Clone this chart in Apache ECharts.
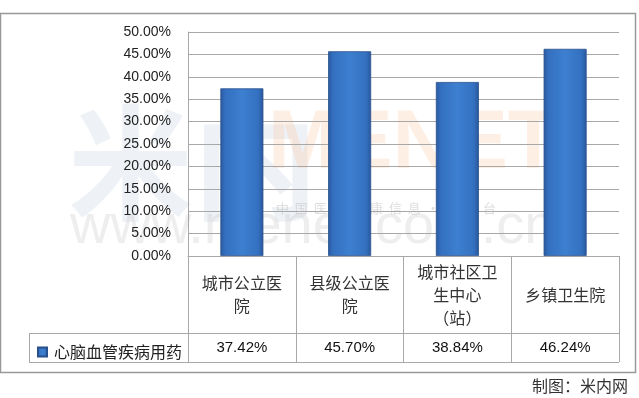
<!DOCTYPE html>
<html><head><meta charset="utf-8">
<script src="https://cdn.jsdelivr.net/npm/echarts@6/dist/echarts.min.js"></script>
<style>html,body{margin:0;padding:0;background:#fff}#c{width:639px;height:398px}</style>
</head><body><div id="c"></div>
<script>
var categories = ['城市公立医\n院', '县级公立医\n院', '城市社区卫\n生中心\n（站）', '乡镇卫生院'];
var seriesName = '心脑血管疾病用药';
var values = [0.3742, 0.4570, 0.3884, 0.4624];
var yTicks = {min: 0, max: 0.5, interval: 0.05};

var G = {left: 188, top: 32, right: 619, bottom: 256};
var rowSplit = 333, tableBottom = 362, legendLeft = 29;
var lineColor = '#a8a8a8';
var chart = echarts.init(document.getElementById('c'));
var barGrad = new echarts.graphic.LinearGradient(0, 0, 1, 0, [
  {offset: 0, color: '#2a5a9f'}, {offset: 0.12, color: '#3470c0'},
  {offset: 0.5, color: '#3d7fd0'}, {offset: 0.88, color: '#3470c0'}, {offset: 1, color: '#29579a'}
]);
chart.setOption({
  animation: false,
  textStyle: {fontFamily: 'Liberation Sans, Noto Sans CJK SC, sans-serif'},
  grid: {left: G.left, top: G.top, right: 639 - G.right, bottom: 398 - G.bottom, containLabel: false},
  legend: {
    left: 32, top: 339, itemWidth: 9, itemHeight: 9, itemGap: 0,
    icon: 'rect', data: [seriesName],
    textStyle: {fontSize: 16, color: '#222', fontFamily: 'Noto Sans CJK SC', padding: [0, 0, 0, 2]}
  },
  xAxis: [{
    type: 'category', data: categories, position: 'bottom',
    axisLine: {show: true, lineStyle: {color: lineColor}},
    axisTick: {show: true, length: tableBottom - G.bottom, lineStyle: {color: lineColor}},
    axisLabel: {
      margin: 38.5, verticalAlign: 'middle', fontSize: 16, lineHeight: 23,
      color: '#333', fontFamily: 'Noto Sans CJK SC', align: 'center', interval: 0
    }
  }, {
    type: 'category', data: values.map(function (v) { return (v * 100).toFixed(2) + '%'; }),
    position: 'bottom', offset: rowSplit - G.bottom,
    axisLine: {show: false}, axisTick: {show: false},
    axisLabel: {margin: 14.5, verticalAlign: 'middle', fontSize: 15, color: '#111', interval: 0}
  }],
  yAxis: {
    type: 'value', min: yTicks.min, max: yTicks.max, interval: yTicks.interval,
    axisLine: {show: true, lineStyle: {color: lineColor}},
    axisTick: {show: false},
    splitLine: {lineStyle: {color: lineColor}},
    axisLabel: {margin: 17, fontSize: 14, color: '#222',
      formatter: function (v) { return (v * 100).toFixed(2) + '%'; }}
  },
  series: [{
    name: seriesName, type: 'bar', data: values, barWidth: 43, xAxisIndex: 0,
    itemStyle: {color: barGrad, borderColor: '#274f8c', borderWidth: 0.8},
    z: 3
  }],
  graphic: [
    {type: 'rect', shape: {x: 0.5, y: 13.5, width: 635, height: 359}, style: {fill: 'none', stroke: '#999', lineWidth: 1.5}, z: 0},
    {type: 'text', left: 68, top: 100, style: {text: '米内', fontSize: 125, fontWeight: 'bold', fill: 'rgba(205,215,225,0.35)', fontFamily: 'Noto Sans CJK SC'}, z: 0},
    {type: 'text', left: 268, top: 104, style: {text: 'MENET', fontSize: 83, fontWeight: 'bold', fill: 'rgba(250,190,150,0.25)', fontFamily: 'Liberation Sans'}, z: 0},
    {type: 'text', left: 276, top: 202, style: {text: '中  国  医  药  健  康  信  息  ·  一  平  台', fontSize: 13, fill: 'rgba(190,190,190,0.5)', fontFamily: 'Noto Sans CJK SC'}, z: 0},
    {type: 'text', left: 70, top: 200, style: {text: 'www.menet.com.cn', fontSize: 56, fill: 'rgba(200,200,200,0.3)', fontFamily: 'Liberation Sans'}, z: 0},
    {type: 'line', shape: {x1: legendLeft, y1: rowSplit + 0.5, x2: G.right, y2: rowSplit + 0.5}, style: {stroke: lineColor, lineWidth: 1}, z: 5},
    {type: 'line', shape: {x1: legendLeft, y1: tableBottom + 0.5, x2: G.right, y2: tableBottom + 0.5}, style: {stroke: lineColor, lineWidth: 1}, z: 5},
    {type: 'line', shape: {x1: legendLeft + 0.5, y1: rowSplit, x2: legendLeft + 0.5, y2: tableBottom}, style: {stroke: lineColor, lineWidth: 1}, z: 5},
    {type: 'text', right: 11, top: 378, style: {text: '制图：米内网', fontSize: 16, fill: '#333', fontFamily: 'Noto Sans CJK SC'}, z: 5}
  ]
});
</script></body></html>
